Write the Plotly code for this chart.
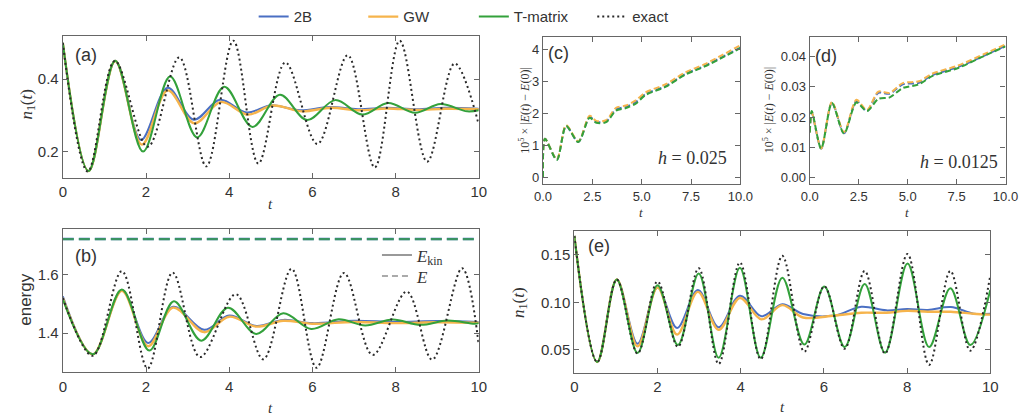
import plotly.graph_objects as go

# ---------------- data ----------------
# panel (a): n1(t)
exact_a_t = [0, 0.6, 1.25, 2.04, 2.8, 3.45, 4.1, 4.7, 5.35, 6.12, 6.85, 7.5, 8.1, 8.76, 9.42, 10]
exact_a = [0.5, 0.145, 0.45, 0.213, 0.46, 0.159, 0.506, 0.167, 0.446, 0.221, 0.466, 0.156, 0.506, 0.172, 0.443, 0.275]
tmat_a_t = [0, 0.62, 1.26, 1.93, 2.58, 3.23, 3.88, 4.56, 5.22, 5.87, 6.55, 7.2, 7.82, 8.47, 9.08, 9.72, 10]
tmat_a = [0.5, 0.146, 0.451, 0.2, 0.407, 0.239, 0.379, 0.268, 0.357, 0.287, 0.342, 0.302, 0.334, 0.307, 0.331, 0.311, 0.314]
b2_a_t = [0, 0.62, 1.26, 1.88, 2.52, 3.15, 3.78, 4.42, 5.02, 5.7, 6.4, 7.1, 7.8, 8.5, 9.2, 10]
b2_a = [0.5, 0.146, 0.451, 0.232, 0.376, 0.288, 0.343, 0.308, 0.328, 0.314, 0.323, 0.317, 0.321, 0.317, 0.321, 0.318]
gw_a_t = [0, 0.62, 1.26, 1.9, 2.52, 3.16, 3.8, 4.45, 5.05, 5.75, 6.45, 7.1, 7.8, 8.5, 9.2, 10]
gw_a = [0.5, 0.146, 0.45, 0.219, 0.369, 0.278, 0.337, 0.302, 0.327, 0.311, 0.321, 0.314, 0.319, 0.315, 0.318, 0.317]

# panel (b): kinetic energy and total energy
exact_b_t = [0, 0.72, 1.42, 2.04, 2.64, 3.3, 4.16, 4.82, 5.5, 6.1, 6.76, 7.45, 8.27, 8.88, 9.6, 10]
exact_b = [1.52, 1.322, 1.612, 1.279, 1.607, 1.318, 1.533, 1.31, 1.62, 1.281, 1.606, 1.325, 1.542, 1.309, 1.622, 1.36]
tmat_b_t = [0, 0.72, 1.42, 2.08, 2.67, 3.33, 3.97, 4.65, 5.3, 5.97, 6.63, 7.27, 7.93, 8.6, 9.25, 9.9, 10]
tmat_b = [1.516, 1.327, 1.549, 1.34, 1.509, 1.374, 1.487, 1.397, 1.468, 1.414, 1.447, 1.426, 1.446, 1.428, 1.443, 1.432, 1.434]
b2_b_t = [0, 0.72, 1.42, 2.05, 2.65, 3.4, 4.0, 4.65, 5.3, 6.0, 7.0, 8.0, 9.0, 10]
b2_b = [1.526, 1.327, 1.547, 1.366, 1.49, 1.411, 1.46, 1.424, 1.445, 1.434, 1.442, 1.438, 1.441, 1.438]
gw_b_t = [0, 0.72, 1.42, 2.05, 2.65, 3.4, 4.0, 4.65, 5.3, 6.0, 7.0, 8.0, 9.0, 10]
gw_b = [1.52, 1.327, 1.545, 1.355, 1.487, 1.403, 1.456, 1.422, 1.442, 1.432, 1.438, 1.434, 1.437, 1.435]
etot_t = [0, 10]
etot = [1.722, 1.722]

# panel (c): 10^5 |E(t)-E(0)|, h = 0.025
c_t = [0, 0.1, 0.7, 1.17, 1.79, 2.36, 2.7, 3.2, 3.7, 4.2, 4.7, 5.2, 6.2, 7.2, 8.2, 9.1, 10]
c_b2 = [0.0, 1.2, 0.55, 1.6, 1.1, 1.88, 1.73, 1.75, 2.12, 2.2, 2.35, 2.6, 2.84, 3.22, 3.48, 3.76, 4.05]
c_gw = [0.0, 1.2, 0.56, 1.63, 1.12, 1.92, 1.76, 1.78, 2.17, 2.24, 2.4, 2.65, 2.9, 3.27, 3.53, 3.82, 4.12]
c_tm = [0.0, 1.2, 0.54, 1.6, 1.1, 1.86, 1.7, 1.72, 2.08, 2.16, 2.3, 2.57, 2.82, 3.2, 3.46, 3.74, 4.03]

# panel (d): h = 0.0125
d_t = [0, 0.1, 0.58, 1.13, 1.75, 2.38, 2.92, 3.5, 4.08, 4.75, 5.58, 6.25, 7.58, 8.92, 10]
d_b2 = [0.015, 0.0215, 0.0096, 0.0248, 0.0147, 0.0253, 0.022, 0.028, 0.0277, 0.0308, 0.0313, 0.0338, 0.0365, 0.0403, 0.0435]
d_gw = [0.015, 0.0215, 0.0097, 0.025, 0.015, 0.0257, 0.0223, 0.0284, 0.028, 0.0312, 0.0318, 0.0343, 0.037, 0.0408, 0.044]
d_tm = [0.015, 0.022, 0.0096, 0.0247, 0.0146, 0.0248, 0.022, 0.026, 0.0265, 0.0296, 0.0308, 0.0335, 0.0362, 0.0402, 0.0433]

# panel (e): n1(t), second system
e_t = [0, 0.55, 1.02, 1.52, 2.0, 2.49, 2.99, 3.47, 3.98, 4.48, 5.0, 5.53, 6.01, 6.5, 6.98, 7.47, 8.01, 8.53, 9.04, 9.52, 10]
exact_e = [0.17, 0.037, 0.124, 0.046, 0.122, 0.053, 0.136, 0.035, 0.142, 0.04, 0.149, 0.048, 0.117, 0.051, 0.133, 0.046, 0.151, 0.034, 0.133, 0.049, 0.128]
tmat_e = [0.17, 0.037, 0.124, 0.0466, 0.118, 0.0549, 0.1305, 0.0416, 0.1364, 0.0416, 0.126, 0.0555, 0.1166, 0.0528, 0.1193, 0.0469, 0.1409, 0.0528, 0.1148, 0.0549, 0.113]
be_t = [0, 0.55, 1.02, 1.52, 2.0, 2.47, 2.97, 3.47, 3.98, 4.5, 5.0, 5.5, 6.25, 6.9, 7.5, 8.0, 8.5, 9.05, 9.6, 10]
b2_e = [0.17, 0.037, 0.124, 0.0563, 0.1155, 0.073, 0.113, 0.0737, 0.107, 0.0852, 0.098, 0.0876, 0.086, 0.0953, 0.0915, 0.093, 0.092, 0.095, 0.088, 0.088]
gw_e = [0.17, 0.037, 0.124, 0.0535, 0.1155, 0.066, 0.111, 0.071, 0.1045, 0.082, 0.097, 0.084, 0.086, 0.089, 0.089, 0.091, 0.090, 0.090, 0.088, 0.087]

names = ["2B", "GW", "T-matrix", "exact"]

# ---------------- styling ----------------
W, H = 1029, 420
BLUE, ORANGE, GREEN, BLACK = "#4a6fc3", "#f6b44c", "#33a13b", "#2a2a2a"
SANS = "Liberation Sans, Arial, sans-serif"
SERIF = "Liberation Serif, Times New Roman, serif"
EXACT_DASH = "2px,3px"


def px(x):
    return x / W


def py(y):
    return 1 - y / H


fig = go.Figure()


def add(ax, t, y, color, dash="solid", width=2.0, name=None, legend=None, smooth=1.0, opacity=1.0):
    fig.add_trace(go.Scatter(
        x=t, y=y, mode="lines", name=name, showlegend=legend is not None, legend=legend or "legend",
        opacity=opacity,
        line=dict(color=color, width=width, dash=dash, shape="spline", smoothing=smooth),
        xaxis="x" + ax, yaxis="y" + ax, hoverinfo="skip"))


# (a)
add("", b2_a_t, b2_a, BLUE, name=names[0], legend="legend")
add("", gw_a_t, gw_a, ORANGE, name=names[1], legend="legend3", width=2.4)
add("", tmat_a_t, tmat_a, GREEN, name=names[2], legend="legend4")
add("", exact_a_t, exact_a, BLACK, dash=EXACT_DASH, name=names[3], legend="legend5")
# (b)
add("2", b2_b_t, b2_b, BLUE)
add("2", gw_b_t, gw_b, ORANGE, width=2.4)
add("2", tmat_b_t, tmat_b, GREEN)
add("2", exact_b_t, exact_b, BLACK, dash=EXACT_DASH)
add("2", etot_t, etot, BLUE, dash="11px,5px", width=2.6)
add("2", etot_t, etot, GREEN, dash="11px,5px", width=2.2, opacity=0.7)
# legend entries inside (b)
fig.add_trace(go.Scatter(x=[None], y=[None], mode="lines", name="<i>E</i><sub>kin</sub>", legend="legend2",
                         line=dict(color="#999", width=2), xaxis="x2", yaxis="y2"))
fig.add_trace(go.Scatter(x=[None], y=[None], mode="lines", name="<i>E</i>", legend="legend6",
                         line=dict(color="#aaa", width=2, dash="6px,4px"), xaxis="x2", yaxis="y2"))
# (c)
add("3", c_t, c_b2, BLUE, dash="6px,3px", smooth=0.8)
add("3", c_t, c_gw, ORANGE, dash="6px,3px", smooth=0.8)
add("3", c_t, c_tm, GREEN, dash="6px,3px", smooth=0.8)
# (d)
add("4", d_t, d_b2, BLUE, dash="6px,3px", smooth=0.8)
add("4", d_t, d_gw, ORANGE, dash="6px,3px", smooth=0.8)
add("4", d_t, d_tm, GREEN, dash="6px,3px", smooth=0.8)
# (e)
add("5", be_t, b2_e, BLUE)
add("5", be_t, gw_e, ORANGE, width=2.4)
add("5", e_t, tmat_e, GREEN)
add("5", e_t, exact_e, BLACK, dash=EXACT_DASH)


def axis(domain, rng, anchor, size=15, **kw):
    d = dict(domain=domain, range=rng, anchor=anchor, showline=True, linecolor="#666", linewidth=1.2,
             mirror="ticks", ticks="inside", ticklen=5, tickcolor="#666", showgrid=False, zeroline=False,
             tickfont=dict(family=SANS, size=size, color="#333"), fixedrange=True)
    d.update(kw)
    return d


def leg(x, y, family=SANS, size=15):
    return dict(x=px(x), y=py(y), xanchor="left", yanchor="middle", orientation="h",
                font=dict(family=family, size=size, color="#333"), bgcolor="rgba(0,0,0,0)",
                borderwidth=0, itemclick=False, itemdoubleclick=False)


xa = [px(55), px(480)]
fig.update_layout(
    width=W, height=H, margin=dict(l=0, r=0, t=0, b=0), autosize=False,
    paper_bgcolor="white", plot_bgcolor="white",
    xaxis=axis(xa, [0, 10], "y", dtick=2),
    yaxis=axis([py(177), py(33)], [0.126, 0.52], "x", tickvals=[0.2, 0.4], tickformat=".1f"),
    xaxis2=axis(xa, [0, 10], "y2", dtick=2),
    yaxis2=axis([py(373), py(228)], [1.265, 1.757], "x2", tickvals=[1.4, 1.6], tickformat=".1f"),
    xaxis3=axis([px(545.7), px(747.3)], [0, 10], "y3", size=13, tickvals=[0, 2.5, 5, 7.5, 10], tickformat=".1f"),
    yaxis3=axis([py(182.7), py(34)], [-0.21, 4.39], "x3", size=13, tickvals=[0, 1, 2, 3, 4]),
    xaxis4=axis([px(818.3), px(1018.3)], [0, 10], "y4", size=13, tickvals=[0, 2.5, 5, 7.5, 10], tickformat=".1f"),
    yaxis4=axis([py(182.7), py(34)], [-0.002, 0.0465], "x4", size=13, tickvals=[0, 0.01, 0.02, 0.03, 0.04], tickformat=".2f"),
    xaxis5=axis([px(577.7), px(1002.7)], [0, 10], "y5", dtick=2),
    yaxis5=axis([py(373.3), py(230)], [0.0257, 0.1754], "x5", tickvals=[0.05, 0.10, 0.15], tickformat=".2f"),
    legend=leg(250, 14),
    legend3=leg(362, 14),
    legend4=leg(475, 14),
    legend5=leg(596, 14),
    legend2=leg(376, 255, SERIF, 17),
    legend6=leg(376, 276, SERIF, 17),
)

ann = []


def text(x, y, s, size=16, family=SANS, angle=0, color="#333"):
    ann.append(dict(x=px(x), y=py(y), xref="paper", yref="paper", text=s, showarrow=False,
                    font=dict(family=family, size=size, color=color), textangle=angle,
                    xanchor="center", yanchor="middle"))


# panel labels
text(79, 52, "(a)", 18)
text(79, 255, "(b)", 18)
text(561, 50, "(c)", 18)
text(835, 54, "(d)", 18)
text(603, 245, "(e)", 18)
# axis titles
text(267, 203, "<i>t</i>", 15, SERIF)
text(267, 409, "<i>t</i>", 15, SERIF)
text(646, 212, "<i>t</i>", 13, SERIF)
text(918, 212, "<i>t</i>", 13, SERIF)
text(790, 408, "<i>t</i>", 15, SERIF)
text(19, 102, "<i>n</i><sub>1</sub>(<i>t</i>)", 17, SERIF, -90)
text(522, 302, "<i>n</i><sub>1</sub>(<i>t</i>)", 17, SERIF, -90)
text(17, 300, "energy", 17, SANS, -90)
text(527, 108, "10<sup>5</sup> × |<i>E</i>(<i>t</i>) − <i>E</i>(0)|", 12, SERIF, -90)
text(777, 108, "10<sup>5</sup> × |<i>E</i>(<i>t</i>) − <i>E</i>(0)|", 12, SERIF, -90)
# step sizes
text(698, 156, "<i>h</i> = 0.025", 18, SERIF)
text(971, 161, "<i>h</i> = 0.0125", 18, SERIF)

fig.update_layout(annotations=ann)
fig.write_html("out.html")
